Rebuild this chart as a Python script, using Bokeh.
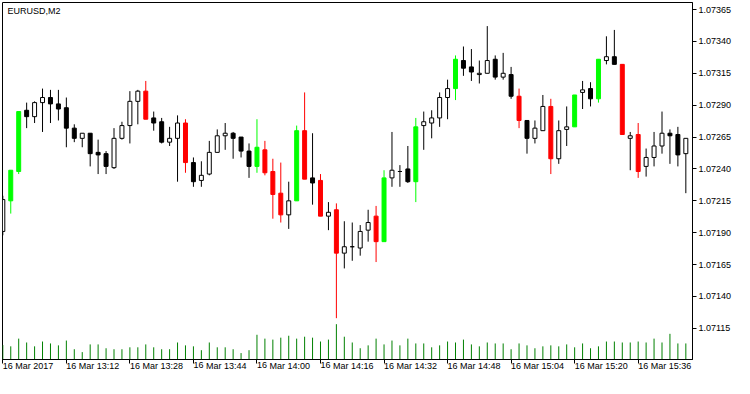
from bokeh.plotting import figure
from bokeh.models import Range1d, FixedTicker, PrintfTickFormatter, Label, ColumnDataSource
from bokeh.embed import file_html
from bokeh.resources import INLINE

chart_title = "EURUSD,M2"
tick_bars = [0, 8, 16, 24, 32, 40, 48, 56, 64, 72, 80]
tick_labels = ["16 Mar 2017", "16 Mar 13:12", "16 Mar 13:28", "16 Mar 13:44", "16 Mar 14:00",
               "16 Mar 14:16", "16 Mar 14:32", "16 Mar 14:48", "16 Mar 15:04", "16 Mar 15:20",
               "16 Mar 15:36"]
price_ticks = [1.07115, 1.07140, 1.07165, 1.07190, 1.07215, 1.07240, 1.07265,
               1.07290, 1.07315, 1.07340, 1.07365]

opens = [1.07191, 1.07215, 1.07238, 1.07286, 1.07281, 1.07292, 1.07296, 1.07291, 1.07288, 1.07272,
         1.07264, 1.07268, 1.07253, 1.07252, 1.07241, 1.07264, 1.07274, 1.07293, 1.07301, 1.07280,
         1.07277, 1.07261, 1.07264, 1.07276, 1.07245, 1.07231, 1.07236, 1.07253, 1.07266, 1.07268,
         1.07265, 1.07254, 1.07242, 1.07255, 1.07238, 1.07221, 1.07204, 1.07215, 1.07270, 1.07233,
         1.07231, 1.07203, 1.07208, 1.07174, 1.07179, 1.07178, 1.07192, 1.07203, 1.07183, 1.07233,
         1.07238, 1.07240, 1.07230, 1.07274, 1.07276, 1.07280, 1.07296, 1.07303, 1.07325, 1.07320,
         1.07314, 1.07315, 1.07326, 1.07312, 1.07314, 1.07297, 1.07278, 1.07264, 1.07270, 1.07289,
         1.07248, 1.07271, 1.07273, 1.07300, 1.07303, 1.07295, 1.07325, 1.07328, 1.07322, 1.07264,
         1.07267, 1.07242, 1.07249, 1.07258, 1.07268, 1.07267, 1.07252]
highs = [1.07219, 1.07239, 1.07285, 1.07292, 1.07293, 1.07303, 1.07302, 1.07302, 1.07296, 1.07275,
         1.07268, 1.07268, 1.07263, 1.07254, 1.07272, 1.07277, 1.07301, 1.07302, 1.07309, 1.07285,
         1.07280, 1.07273, 1.07282, 1.07279, 1.07249, 1.07246, 1.07262, 1.07271, 1.07276, 1.07269,
         1.07265, 1.07260, 1.07279, 1.07262, 1.07248, 1.07245, 1.07230, 1.07274, 1.07300, 1.07268,
         1.07236, 1.07214, 1.07213, 1.07199, 1.07198, 1.07196, 1.07208, 1.07211, 1.07239, 1.07269,
         1.07243, 1.07258, 1.07280, 1.07285, 1.07286, 1.07300, 1.07310, 1.07329, 1.07336, 1.07334,
         1.07325, 1.07352, 1.07329, 1.07331, 1.07320, 1.07303, 1.07278, 1.07278, 1.07298, 1.07295,
         1.07278, 1.07289, 1.07298, 1.07309, 1.07308, 1.07326, 1.07344, 1.07349, 1.07322, 1.07269,
         1.07276, 1.07256, 1.07269, 1.07285, 1.07271, 1.07273, 1.07264]
lows = [1.07188, 1.07205, 1.07236, 1.07272, 1.07276, 1.07269, 1.07276, 1.07278, 1.07257, 1.07261,
        1.07257, 1.07242, 1.07236, 1.07236, 1.07240, 1.07263, 1.07260, 1.07275, 1.07279, 1.07270,
        1.07260, 1.07258, 1.07230, 1.07237, 1.07226, 1.07226, 1.07235, 1.07253, 1.07255, 1.07248,
        1.07249, 1.07233, 1.07237, 1.07235, 1.07201, 1.07198, 1.07193, 1.07215, 1.07232, 1.07212,
        1.07203, 1.07192, 1.07123, 1.07162, 1.07168, 1.07172, 1.07183, 1.07167, 1.07183, 1.07226,
        1.07226, 1.07229, 1.07214, 1.07255, 1.07264, 1.07273, 1.07279, 1.07294, 1.07313, 1.07309,
        1.07307, 1.07315, 1.07310, 1.07310, 1.07295, 1.07272, 1.07252, 1.07260, 1.07270, 1.07236,
        1.07244, 1.07258, 1.07273, 1.07287, 1.07289, 1.07292, 1.07322, 1.07322, 1.07267, 1.07239,
        1.07233, 1.07234, 1.07242, 1.07252, 1.07244, 1.07242, 1.07221]
closes = [1.07216, 1.07239, 1.07285, 1.07281, 1.07292, 1.07296, 1.07291, 1.07287, 1.07272, 1.07264,
          1.07268, 1.07252, 1.07251, 1.07242, 1.07264, 1.07274, 1.07293, 1.07301, 1.07279, 1.07276,
          1.07261, 1.07264, 1.07276, 1.07245, 1.07230, 1.07235, 1.07253, 1.07266, 1.07268, 1.07264,
          1.07254, 1.07242, 1.07257, 1.07237, 1.07220, 1.07204, 1.07215, 1.07270, 1.07232, 1.07229,
          1.07203, 1.07206, 1.07174, 1.07179, 1.07179, 1.07191, 1.07198, 1.07183, 1.07233, 1.07239,
          1.07238, 1.07230, 1.07273, 1.07277, 1.07280, 1.07296, 1.07303, 1.07326, 1.07319, 1.07316,
          1.07315, 1.07325, 1.07312, 1.07315, 1.07297, 1.07278, 1.07264, 1.07272, 1.07289, 1.07248,
          1.07270, 1.07273, 1.07298, 1.07302, 1.07295, 1.07326, 1.07328, 1.07322, 1.07267, 1.07266,
          1.07238, 1.07249, 1.07258, 1.07268, 1.07266, 1.07251, 1.07264]
volumes = [45, 41, 65, 53, 41, 56, 50, 44, 59, 32,
           23, 47, 47, 35, 32, 32, 38, 38, 47, 38,
           32, 32, 53, 44, 41, 29, 53, 38, 38, 32,
           20, 29, 77, 65, 62, 68, 74, 65, 71, 68,
           56, 62, 110, 71, 53, 35, 44, 65, 47, 59,
           44, 65, 50, 50, 38, 44, 56, 53, 62, 47,
           41, 53, 50, 50, 32, 50, 44, 35, 41, 44,
           41, 47, 38, 50, 35, 41, 56, 56, 53, 53,
           56, 53, 65, 53, 80, 50, 50]
# signal colouring of the custom indicator: G = bullish signal, R = bearish signal
signals = ["", "G", "G", "", "", "", "", "", "", "",
           "", "", "", "", "", "", "", "", "R", "",
           "", "", "", "R", "", "", "", "", "", "",
           "", "", "G", "R", "R", "R", "", "G", "R", "",
           "R", "", "R", "", "", "", "", "R", "G", "",
           "", "", "G", "", "", "", "", "G", "", "",
           "", "", "", "", "", "R", "", "", "", "R",
           "", "", "G", "", "", "G", "", "", "R", "",
           "R", "", "", "", "", "", ""]

FONT = "Liberation Sans"
FS = "9px"
GREEN = "#00FF00"
RED = "#FF0000"

X0, X1 = -0.04, 86.84
Y0, Y1 = 1.070906, 1.073705

idx = list(range(len(opens)))
body_fill, body_line, wick_col = [], [], []
for o, c, s in zip(opens, closes, signals):
    if s == "G":
        body_fill.append(GREEN); body_line.append(GREEN); wick_col.append(GREEN)
    elif s == "R":
        body_fill.append(RED); body_line.append(RED); wick_col.append(RED)
    else:
        body_fill.append("white" if c >= o else "black")
        body_line.append("black"); wick_col.append("black")

src = ColumnDataSource(dict(
    x=idx, o=opens, h=highs, l=lows, c=closes,
    top=[max(o, c) for o, c in zip(opens, closes)],
    bot=[min(o, c) for o, c in zip(opens, closes)],
    fill=body_fill, line=body_line, wick=wick_col,
    vol=volumes, zero=[0] * len(idx)))

p = figure(width=734, height=378, output_backend="svg", toolbar_location=None,
           x_range=Range1d(X0, X1), y_range=Range1d(Y0, Y1),
           y_axis_location="right", min_border_left=2, min_border_top=2,
           min_border_right=0, min_border_bottom=0)
p.extra_y_ranges = {"vol": Range1d(0, 1112)}
p.grid.visible = False
p.outline_line_color = "black"
p.outline_line_alpha = 1.0
p.outline_line_width = 1
p.background_fill_color = "white"
p.border_fill_color = "white"

p.segment(x0="x", y0="zero", x1="x", y1="vol", y_range_name="vol", source=src,
          line_color="#008000", line_width=1)
p.segment(x0="x", y0="l", x1="x", y1="h", source=src, line_color="wick", line_width=1)
p.vbar(x="x", width=0.5, top="top", bottom="bot", source=src,
       fill_color="fill", line_color="line", line_width=1)

ya = p.yaxis[0]
ya.ticker = FixedTicker(ticks=price_ticks)
ya.formatter = PrintfTickFormatter(format="%.5f")
ya.major_tick_out = 4
ya.major_tick_in = 0
ya.minor_tick_out = 0
ya.minor_tick_in = 0
ya.major_label_standoff = 2
ya.axis_line_color = "black"
ya.major_tick_line_color = "black"
ya.major_label_text_font = FONT
ya.major_label_text_font_size = FS
ya.major_label_text_color = "black"
ya.axis_label_text_font_size = "0px"
ya.axis_label_standoff = 0

xa = p.xaxis[0]
xa.ticker = FixedTicker(ticks=tick_bars)
xa.major_label_overrides = {b: t for b, t in zip(tick_bars, tick_labels)}
xa.major_label_orientation = -0.000001
xa.major_tick_out = 4
xa.major_tick_in = 0
xa.minor_tick_out = 0
xa.minor_tick_in = 0
xa.major_label_standoff = 2
xa.axis_line_color = "black"
xa.major_tick_line_color = "black"
xa.major_label_text_font = FONT
xa.major_label_text_font_size = FS
xa.major_label_text_color = "black"
xa.axis_label_text_font_size = "0px"
xa.axis_label_standoff = 0

p.add_layout(Label(x=X0, y=Y1, text=chart_title, x_offset=5, y_offset=-3,
                   text_baseline="top", text_align="left", text_font=FONT,
                   text_font_size=FS, text_color="black"))

open("out.html", "w").write(file_html(p, INLINE))
